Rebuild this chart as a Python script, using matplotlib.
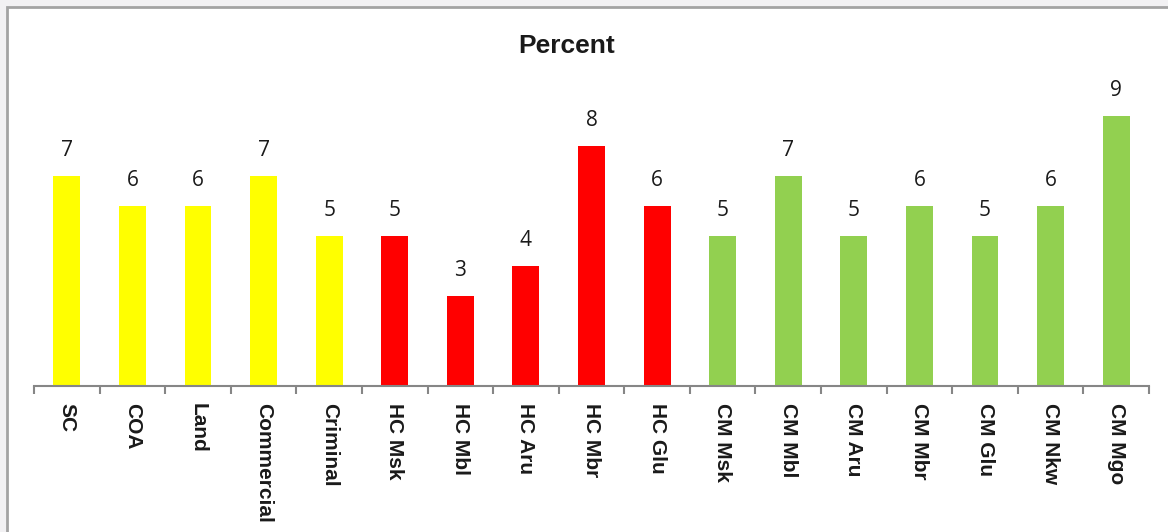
import matplotlib.pyplot as plt
from matplotlib.patches import Rectangle
import numpy as np

# Case counts by court / registry
categories = ['SC', 'COA', 'Land', 'Commercial', 'Criminal',
              'HC Msk', 'HC Mbl', 'HC Aru', 'HC Mbr', 'HC Glu',
              'CM Msk', 'CM Mbl', 'CM Aru', 'CM Mbr', 'CM Glu', 'CM Nkw', 'CM Mgo']
percent = [7, 6, 6, 7, 5, 5, 3, 4, 8, 6, 5, 7, 5, 6, 5, 6, 9]
groups = ['top'] * 5 + ['hc'] * 5 + ['cm'] * 7
group_colors = {'top': '#FFFF00', 'hc': '#FF0000', 'cm': '#92D050'}

W, H = 1168, 532
fig = plt.figure(figsize=(W / 100, H / 100), dpi=100, facecolor='#f2f1f3')

# white chart area with a grey frame, kept behind the axes
frame = Rectangle((7 / W, -0.05), 1.1, 1 - 7 / H + 0.05, transform=fig.transFigure,
                  facecolor='white', edgecolor='#a3a3a3', linewidth=2, zorder=-10)
fig.patches.append(frame)

ax = fig.add_axes([34 / W, 146 / H, 1115 / W, 300 / H])
ax.set_facecolor('none')
ax.set_zorder(1)

x = np.arange(len(categories))
colors = [group_colors[g] for g in groups]
bars = ax.bar(x, percent, width=0.41, color=colors, zorder=2)

for xi, v in zip(x, percent):
    ax.annotate(str(v), (xi, v), xytext=(0, 11), textcoords='offset points',
                ha='center', va='bottom', fontsize=15, family='Open Sans', color='#1a1a1a')

ax.set_xlim(-0.5, len(categories) - 0.5)
ax.set_ylim(0, 10)
ax.set_yticks([])

for side in ['top', 'right', 'left']:
    ax.spines[side].set_visible(False)
ax.spines['bottom'].set_color('#868686')
ax.spines['bottom'].set_linewidth(1.5)

ax.set_xticks(x)
ax.set_xticklabels(categories, rotation=-90, fontsize=15, fontweight='bold',
                   family='Liberation Sans', color='#1a1a1a', va='top', ha='center')
ax.tick_params(axis='x', which='major', length=0, pad=12)
ax.set_xticks(np.arange(-0.5, len(categories)), minor=True)
ax.tick_params(axis='x', which='minor', length=6, width=1.5, color='#868686')

fig.text(567 / W, 1 - 46 / H, 'Percent', ha='center', va='center',
         fontsize=19, fontweight='bold', family='Liberation Sans', color='#1a1a1a')

fig.savefig('out.png', dpi=100, facecolor=fig.get_facecolor())
